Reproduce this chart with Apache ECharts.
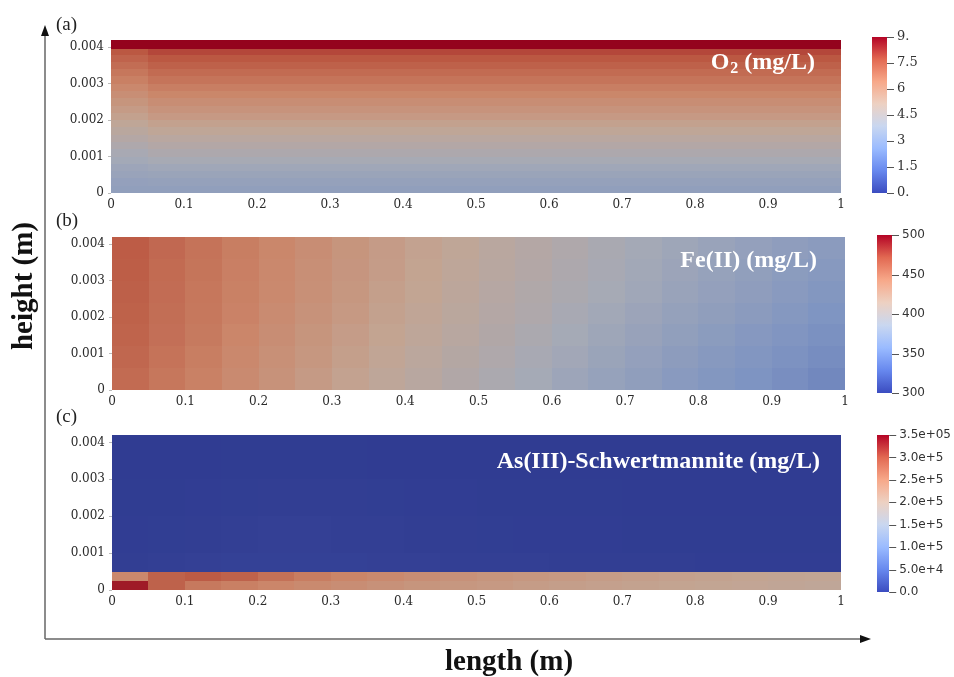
<!DOCTYPE html>
<html>
<head>
<meta charset="utf-8">
<script src="https://cdn.jsdelivr.net/npm/echarts@6/dist/echarts.min.js"></script>
<style>html,body{margin:0;padding:0;background:#fff}#chart{width:954px;height:677px}</style>
</head>
<body>
<div id="chart"></div>
<script>
// ---------- data ----------
const xEdges = [0,0.05,0.1,0.15,0.2,0.25,0.3,0.35,0.4,0.45,0.5,0.55,0.6,0.65,0.7,0.75,0.8,0.85,0.9,0.95,1];
const xTickLabels = ['0','0.1','0.2','0.3','0.4','0.5','0.6','0.7','0.8','0.9','1'];
const yTickLabels = ['0','0.001','0.002','0.003','0.004'];

// (a) O2: 21 layers (bottom -> top), first column and the rest of the length
const o2YEdges = [0,0.0002,0.0004,0.0006,0.0008,0.001,0.0012,0.0014,0.0016,0.0018,0.002,0.0022,0.0024,0.0026,0.0028,0.003,0.0032,0.0034,0.0036,0.0038,0.00395,0.0042];
const o2XEdges = [0,0.05,1];
const o2FirstCol = [3.2,3.3,3.45,3.6,3.8,4.0,4.25,4.5,4.75,5.0,5.3,5.55,5.8,6.05,6.3,6.55,6.8,7.05,7.3,7.6,9.0];
const o2Rest     = [3.2,3.35,3.5,3.7,3.95,4.2,4.45,4.7,5.0,5.3,5.6,5.85,6.1,6.35,6.6,6.85,7.1,7.35,7.6,7.9,9.0];
const o2BarTicks = [0,1.5,3,4.5,6,7.5,9];
const o2BarLabels = ['0.','1.5','3','4.5','6','7.5','9.'];

// (b) Fe(II): 7 layers (bottom -> top) x 20 columns
const feYEdges = [0,0.0006,0.0012,0.0018,0.0024,0.003,0.0036,0.0042];
const feRow0 = [458,451,445,438,431,424,417,410,404,398,392,386,380,375,370,365,361,357,353,349];
const feRow1 = [460,453,447,440,433,427,420,413,407,401,395,389,383,378,373,368,364,360,356,352];
const feRow2 = [462,455,449,442,435,429,422,416,410,404,398,392,386,381,376,371,367,363,359,355];
const feRow3 = [463,456,450,444,437,431,425,418,412,406,400,395,389,384,379,374,370,366,362,358];
const feRow4 = [464,457,451,445,439,433,427,420,414,408,402,397,392,387,382,377,373,369,365,361];
const feRow5 = [465,458,452,446,440,434,428,422,416,410,404,399,394,389,384,379,375,371,367,364];
const feRow6 = [466,459,453,447,441,435,429,423,417,411,405,400,395,390,385,381,377,373,369,366];
const feBarTicks = [300,350,400,450,500];
const feBarLabels = ['300','350','400','450','500'];

// (c) As(III)-Schwertmannite: 6 layers (bottom -> top) x 20 columns
const asYEdges = [0,0.00025,0.0005,0.001,0.002,0.003,0.0042];
const asRow0 = [335000,285000,262000,255000,248000,242000,236000,231000,226000,222000,218000,214000,211000,208000,205000,203000,200000,198000,196000,194000];
const asRow1 = [245000,285000,292000,285000,270000,258000,250000,243000,237000,231000,226000,222000,218000,214000,211000,208000,205000,203000,201000,199000];
const asRow2 = [2000,3000,4000,5000,5000,5000,5000,4000,4000,3000,3000,3000,2000,2000,2000,2000,1000,1000,1000,1000];
const asRow3 = [1000,1500,2500,3500,4000,4000,3500,3000,2500,2000,1500,1000,1000,1000,500,500,500,500,500,500];
const asRow4 = [500,500,1000,1500,2000,2000,2000,1500,1000,1000,500,500,500,500,0,0,0,0,0,0];
const asRow5 = [0,0,0,500,500,500,500,0,0,0,0,0,0,0,0,0,0,0,0,0];
const asBarTicks = [0,50000,100000,150000,200000,250000,300000,350000];
const asBarLabels = ['0.0','5.0e+4','1.0e+5','1.5e+5','2.0e+5','2.5e+5','3.0e+5','3.5e+05'];

// ---------- helpers ----------
const COOLWARM = ['#3b4cc0','#6788ee','#9abbff','#c9d7f0','#edd1c2','#f7a889','#e26952','#b40426'];
const SHADE = [0.82,0.79,0.76];

function buildCells(xE, yE, rows) {
  const out = [];
  rows.forEach((row, r) => {
    row.forEach((v, c) => {
      out.push([xE[c], xE[c+1], yE[r], yE[r+1], v]);
    });
  });
  return out;
}
const o2Cells = buildCells(o2XEdges, o2YEdges, o2FirstCol.map((v, i) => [v, o2Rest[i]]));
const feCells = buildCells(xEdges, feYEdges, [feRow0,feRow1,feRow2,feRow3,feRow4,feRow5,feRow6]);
const asCells = buildCells(xEdges, asYEdges, [asRow0,asRow1,asRow2,asRow3,asRow4,asRow5]);

function renderCell(params, api) {
  const p0 = api.coord([api.value(0), api.value(3)]);
  const p1 = api.coord([api.value(1), api.value(2)]);
  const x0 = Math.round(p0[0]), y0 = Math.round(p0[1]);
  const x1 = Math.round(p1[0]), y1 = Math.round(p1[1]);
  const c = echarts.color.parse(api.visual('color'));
  const fill = 'rgb(' + Math.round(c[0]*SHADE[0]) + ',' + Math.round(c[1]*SHADE[1]) + ',' + Math.round(c[2]*SHADE[2]) + ')';
  return {
    type: 'rect',
    shape: { x: x0, y: y0, width: x1 - x0, height: y1 - y0 },
    style: { fill: fill }
  };
}

// colour bar drawn in its own little grid
const barStops = COOLWARM.map((col, i) => ({ offset: i / (COOLWARM.length - 1), color: col }));
function renderBar(params, api) {
  const p0 = api.coord([0, api.value(1)]);
  const p1 = api.coord([1, api.value(0)]);
  return {
    type: 'rect',
    shape: { x: Math.round(p0[0]), y: Math.round(p0[1]), width: Math.round(p1[0] - p0[0]), height: Math.round(p1[1] - p0[1]) },
    style: { fill: new echarts.graphic.LinearGradient(0, 1, 0, 0, barStops) }
  };
}
function renderTick(params, api) {
  const p = api.coord([1, api.value(0)]);
  const y = Math.round(p[1]) + 0.5;
  return {
    type: 'line',
    shape: { x1: p[0], y1: y, x2: p[0] + 7, y2: y },
    style: { stroke: '#555', lineWidth: 1 }
  };
}

const SERIF = '"DejaVu Serif", "Liberation Serif", serif';
const TIMES = '"Liberation Serif", "Times New Roman", serif';
const SANS = '"DejaVu Sans", sans-serif';

const mainGrids = [
  { left: 111, top: 40, width: 730, height: 153 },
  { left: 112, top: 237, width: 733, height: 153 },
  { left: 112, top: 435, width: 729, height: 155 }
];
const barGrids = [
  { left: 872, top: 37, width: 15, height: 156 },
  { left: 877, top: 235, width: 15, height: 158 },
  { left: 877, top: 435, width: 15, height: 157 }
];

function mainX(i) {
  return {
    type: 'value', gridIndex: i, min: 0, max: 1, interval: 0.1,
    axisLine: { show: false },
    axisTick: { show: true, inside: true, length: 4, lineStyle: { color: 'rgba(255,255,255,0.85)', width: 1 } },
    splitLine: { show: false },
    axisLabel: { margin: 6, color: '#2a2a2a', fontFamily: SERIF, fontSize: 12,
      formatter: v => xTickLabels[Math.round(v / 0.1)] }
  };
}
function mainY(i) {
  return {
    type: 'value', gridIndex: i, min: 0, max: 0.0042, interval: 0.001,
    axisLine: { show: false },
    axisTick: { show: true, length: 3, lineStyle: { color: '#bbb' } },
    splitLine: { show: false },
    axisLabel: { margin: 7, color: '#2a2a2a', fontFamily: SERIF, fontSize: 12, showMaxLabel: false,
      formatter: v => yTickLabels[Math.round(v / 0.001)] }
  };
}
function barY(i, min, max, step, labels, font, size) {
  return {
    type: 'value', gridIndex: i, position: 'right', min: min, max: max, interval: step,
    axisLine: { show: false },
    axisTick: { show: false },
    splitLine: { show: false },
    axisLabel: { margin: 10, color: '#333', fontFamily: font, fontSize: size,
      formatter: v => labels[Math.round((v - min) / step)] }
  };
}
function barX(i) {
  return { type: 'value', gridIndex: i, show: false, min: 0, max: 1 };
}

function vmap(seriesIndex, min, max) {
  return {
    type: 'continuous', show: false, seriesIndex: seriesIndex, dimension: 4, min: min, max: max,
    inRange: { color: COOLWARM }
  };
}

function barSeries(axisIdx, min, max) {
  return { type: 'custom', xAxisIndex: axisIdx, yAxisIndex: axisIdx, renderItem: renderBar, clip: false,
    data: [[min, max]], encode: { y: [0, 1] }, silent: true };
}
function tickSeries(axisIdx, ticks) {
  return { type: 'custom', xAxisIndex: axisIdx, yAxisIndex: axisIdx, renderItem: renderTick, clip: false,
    data: ticks.map(t => [t]), encode: { y: 0 }, silent: true };
}

const chart = echarts.init(document.getElementById('chart'), null, { renderer: 'canvas' });
chart.setOption({
  animation: false,
  backgroundColor: '#fff',
  grid: mainGrids.concat(barGrids),
  xAxis: [mainX(0), mainX(1), mainX(2), barX(3), barX(4), barX(5)],
  yAxis: [mainY(0), mainY(1), mainY(2),
    barY(3, 0, 9, 1.5, o2BarLabels, SERIF, 13),
    barY(4, 300, 500, 50, feBarLabels, SANS, 12),
    barY(5, 0, 350000, 50000, asBarLabels, SANS, 12)],
  visualMap: [vmap(0, 0, 9), vmap(1, 300, 500), vmap(2, 0, 350000)],
  series: [
    { type: 'custom', xAxisIndex: 0, yAxisIndex: 0, renderItem: renderCell, data: o2Cells, encode: { x: [0, 1], y: [2, 3] } },
    { type: 'custom', xAxisIndex: 1, yAxisIndex: 1, renderItem: renderCell, data: feCells, encode: { x: [0, 1], y: [2, 3] } },
    { type: 'custom', xAxisIndex: 2, yAxisIndex: 2, renderItem: renderCell, data: asCells, encode: { x: [0, 1], y: [2, 3] } },
    barSeries(3, 0, 9), barSeries(4, 300, 500), barSeries(5, 0, 350000),
    tickSeries(3, o2BarTicks), tickSeries(4, feBarTicks), tickSeries(5, asBarTicks)
  ],
  graphic: [
    // frame arrows
    { type: 'line', shape: { x1: 45, y1: 36, x2: 45, y2: 639 }, style: { stroke: '#666', lineWidth: 1.5 } },
    { type: 'polygon', shape: { points: [[45, 25], [41, 36], [49, 36]] }, style: { fill: '#111' } },
    { type: 'line', shape: { x1: 45, y1: 639, x2: 861, y2: 639 }, style: { stroke: '#666', lineWidth: 1.5 } },
    { type: 'polygon', shape: { points: [[871, 639], [860, 635], [860, 643]] }, style: { fill: '#111' } },
    // axis names
    { type: 'text', x: 25, y: 286, rotation: Math.PI / 2,
      style: { text: 'height (m)', font: 'bold 29px ' + TIMES, fill: '#111', align: 'center', verticalAlign: 'middle' } },
    { type: 'text', x: 509, y: 663,
      style: { text: 'length (m)', font: 'bold 29px ' + TIMES, fill: '#111', align: 'center', verticalAlign: 'middle' } },
    // panel letters
    { type: 'text', x: 56, y: 25, style: { text: '(a)', font: '19px ' + TIMES, fill: '#222', align: 'left', verticalAlign: 'middle' } },
    { type: 'text', x: 56, y: 221, style: { text: '(b)', font: '19px ' + TIMES, fill: '#222', align: 'left', verticalAlign: 'middle' } },
    { type: 'text', x: 56, y: 417, style: { text: '(c)', font: '19px ' + TIMES, fill: '#222', align: 'left', verticalAlign: 'middle' } },
    // panel titles
    { type: 'text', x: 815, y: 63, z: 100,
      style: { text: '{b|O}{s|2}{b| (mg/L)}', align: 'right', verticalAlign: 'middle',
        rich: {
          b: { fontFamily: TIMES, fontWeight: 'bold', fontSize: 24, fill: '#fff' },
          s: { fontFamily: TIMES, fontWeight: 'bold', fontSize: 16, fill: '#fff', padding: [12, 0, 0, 1] }
        } } },
    { type: 'text', x: 817, y: 261, z: 100,
      style: { text: 'Fe(II) (mg/L)', font: 'bold 24px ' + TIMES, fill: '#fff', align: 'right', verticalAlign: 'middle' } },
    { type: 'text', x: 820, y: 462, z: 100,
      style: { text: 'As(III)-Schwertmannite (mg/L)', font: 'bold 24px ' + TIMES, fill: '#fff', align: 'right', verticalAlign: 'middle' } }
  ]
});
</script>
</body>
</html>
